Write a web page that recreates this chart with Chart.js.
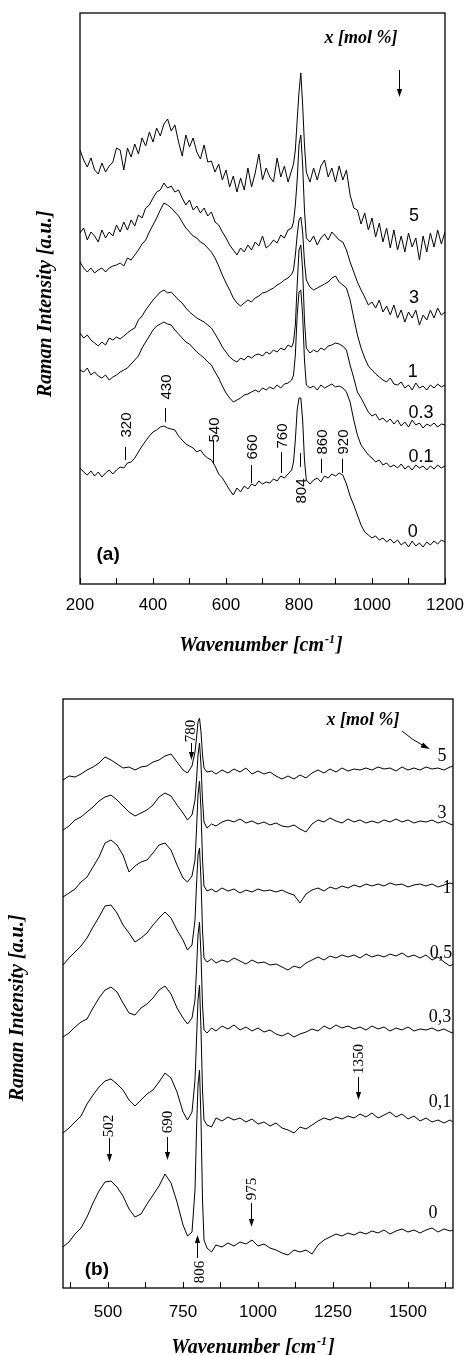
<!DOCTYPE html>
<html><head><meta charset="utf-8">
<script src="https://cdn.jsdelivr.net/npm/chart.js@4.4.0/dist/chart.umd.min.js"></script>
<style>
html,body{margin:0;padding:0;background:#fff;}
#wrap{position:relative;width:466px;height:1355px;overflow:hidden;background:#fff;}
#ca{position:absolute;left:0;top:0;}
#cb{position:absolute;left:0;top:660px;}
</style></head><body>
<div id="wrap"><canvas id="ca" width="466" height="660"></canvas><canvas id="cb" width="466" height="695"></canvas></div>
<script>
// ---------------- Panel (a) data ----------------
const xA = [
200,210,220,230,240,250,260,270,280,290,
300,310,320,330,340,350,360,370,380,390,
400,410,420,430,440,450,460,470,480,490,
500,510,520,530,540,550,560,570,580,590,
600,610,620,630,640,650,660,670,680,690,
700,710,720,730,740,750,760,770,780,785,
790,795,800,805,810,815,820,830,840,850,
860,870,880,890,900,910,920,930,940,950,
960,970,980,990,1000,1010,1020,1030,1040,1050,
1060,1070,1080,1090,1100,1110,1120,1130,1140,1150,
1160,1170,1180,1190,1200];
const a5 = [
450,440,433,442,430,426,437,428,434,438,
452,450,430,452,443,456,446,462,454,468,
458,472,464,476,481,469,475,458,444,465,
453,462,448,441,455,438,439,428,436,420,
430,413,424,408,422,410,432,413,427,446,
420,432,423,418,442,423,434,418,430,436,
450,480,508,527,495,455,428,418,432,420,
434,440,423,432,418,434,420,430,405,392,
390,376,387,370,382,363,377,358,372,352,
370,350,364,348,367,353,362,340,364,348,
367,353,370,356,368];
const a3 = [
367,372,360,368,364,358,370,362,368,364,
375,368,378,370,380,374,385,382,392,395,
402,408,410,417,412,414,408,410,402,395,
400,390,394,387,392,384,388,378,375,368,
362,355,350,345,352,348,355,350,358,354,
364,352,355,360,357,365,362,370,372,378,
395,420,455,465,435,390,362,358,364,355,
362,366,360,368,364,360,358,350,338,328,
318,310,303,295,298,292,300,288,294,285,
295,282,290,278,288,282,290,275,285,280,
290,282,292,285,288];
const a1 = [
338,332,328,332,327,330,332,328,332,334,
335,337,334,342,340,345,350,356,360,368,
375,382,390,397,395,392,388,384,378,372,
368,364,362,358,356,352,348,342,334,325,
317,310,302,297,294,297,300,298,302,304,
307,308,310,312,315,317,320,322,326,330,
345,365,380,383,368,338,320,313,310,312,
314,316,318,322,324,318,315,312,300,282,
265,252,242,234,230,226,223,220,218,222,
216,215,218,212,215,210,217,212,214,210,
215,212,216,213,215];
const a03 = [
267,262,265,260,257,254,258,255,262,260,
263,261,264,267,270,272,280,284,290,295,
300,304,308,310,307,308,304,300,297,292,
288,285,282,280,278,275,272,266,260,253,
248,243,240,238,242,240,244,242,245,246,
244,248,246,250,248,252,250,255,253,258,
275,315,350,355,330,280,252,247,250,248,
252,250,254,255,257,256,254,250,235,222,
208,202,195,188,184,186,180,182,178,181,
176,180,174,178,173,180,175,177,172,176,
174,177,173,176,175];
const a01 = [
230,228,232,225,228,224,222,225,220,223,
225,228,230,232,236,240,244,252,258,264,
270,274,276,278,276,275,270,266,262,258,
256,252,248,245,242,238,235,228,222,214,
207,202,198,200,202,205,206,208,210,208,
212,210,213,211,215,212,216,217,220,225,
245,285,308,310,285,240,215,212,214,210,
215,212,214,216,213,214,212,208,198,180,
165,155,150,145,142,138,140,135,137,133,
135,132,136,131,134,130,135,132,134,130,
134,131,135,132,134];
const a0 = [
132,128,125,129,124,128,123,127,130,126,
130,133,132,137,138,142,148,154,159,164,
168,170,173,174,172,171,170,164,160,156,
154,152,148,150,145,142,140,134,126,122,
116,110,105,112,108,114,111,116,114,119,
116,118,117,121,119,124,122,126,130,138,
160,190,202,202,180,140,120,116,120,122,
118,124,122,126,124,127,125,116,104,95,
85,75,68,65,62,64,60,62,58,61,
57,60,55,58,53,59,54,57,53,58,
55,59,56,60,58];
const seriesLabelsA = ['5','3','1','0.3','0.1','0'];
const tickValuesA = [200,300,400,500,600,700,800,900,1000,1100,1200];
const tickLabelsA = [200,400,600,800,1000,1200];
const peakLabelsA = ['320','430','540','660','760','804','860','920'];

// ---------------- Panel (b) data ----------------
const xB = [
350,370,390,410,430,450,470,490,510,530,
550,570,590,610,630,650,670,690,710,730,
750,765,780,790,795,800,805,810,815,820,
830,845,860,880,900,920,940,960,980,1000,
1020,1040,1060,1080,1100,1120,1140,1160,1180,1200,
1220,1240,1260,1280,1300,1320,1340,1360,1380,1400,
1420,1440,1460,1480,1500,1520,1540,1560,1580,1600,
1620,1640,1650];
const b5 = [
520,524,523,526,530,533,537,543,540,536,
532,533,530,533,534,538,540,544,546,538,
530,527,534,548,562,578,582,568,545,532,
528,529,526,530,527,531,528,532,526,529,
526,528,524,521,524,521,525,522,527,530,
527,531,528,532,529,531,530,532,530,533,
531,532,529,533,530,532,530,533,531,532,
530,533,534];
const b3 = [
470,474,480,483,488,493,499,503,505,500,
494,488,484,487,490,495,503,507,504,495,
487,480,485,500,520,545,557,535,500,478,
472,476,474,478,480,478,481,477,479,476,
478,475,477,474,473,475,471,468,476,480,
478,482,479,477,481,478,480,477,479,477,
480,478,481,478,480,477,479,478,480,477,
479,476,475];
const b1 = [
403,407,411,418,423,433,443,457,460,455,
445,428,434,438,440,447,455,457,450,435,
422,418,424,440,470,505,519,490,440,414,
409,411,408,412,409,411,407,410,408,411,
409,410,408,410,407,405,397,406,410,412,
409,413,411,414,412,415,413,416,414,416,
414,417,415,416,413,415,416,414,416,413,
415,417,416];
const b05 = [
335,342,348,354,362,373,383,394,395,387,
375,367,358,362,367,375,382,388,382,370,
360,350,355,380,415,445,452,420,370,342,
338,341,337,340,338,342,339,336,340,337,
338,335,336,333,330,334,332,337,340,343,
340,344,342,345,343,345,342,346,343,345,
343,346,344,347,343,345,342,345,340,343,
338,334,336];
const b03 = [
263,267,273,278,281,292,302,310,313,308,
297,287,285,292,296,302,310,314,306,292,
282,276,282,300,330,365,378,345,295,270,
267,272,269,274,271,275,270,273,269,272,
268,270,266,264,267,263,266,268,271,269,
274,271,275,272,274,271,273,270,274,271,
273,269,272,270,273,269,271,270,272,269,
271,268,267];
const b01 = [
167,172,178,184,196,205,213,219,221,216,
210,200,194,200,206,210,218,227,222,208,
188,180,188,220,260,300,315,270,210,180,
175,173,182,179,183,180,182,178,181,176,
178,174,177,172,170,167,173,171,175,179,
182,180,183,181,184,182,186,183,187,182,
185,188,183,186,181,184,179,182,178,180,
177,180,178];
const b0 = [
53,58,66,72,83,97,109,118,119,113,
104,91,83,86,96,105,114,126,117,98,
75,64,68,110,170,215,230,180,100,60,
52,48,55,53,57,54,58,56,60,54,
56,52,50,47,45,50,48,50,46,55,
60,63,66,64,67,65,68,66,69,67,
70,66,69,71,68,70,67,70,72,68,
71,69,70];
const seriesLabelsB = ['5','3','1','0,5','0,3','0,1','0'];
const tickValuesB = [375,500,625,750,875,1000,1125,1250,1375,1500,1625];
const tickLabelsB = [500,750,1000,1250,1500];
const peakLabelsB = ['780','502','690','806','975','1350'];

// ---------------- layout / styling ----------------
const SANS = '"Liberation Sans", Arial, sans-serif';
const SERIF = '"Liberation Serif", "Times New Roman", serif';

const layoutA = {
  yTitle: {x: 46, y: 304},
  xTitle: {x: 261, y: 644},
  panel: [277, 45],
  legendTitle: [970, 562],
  legendArrow: {x: 1074, from: 530, to: 503},
  seriesPos: [[1115,384],[1115,302],[1112,228],[1134,187],[1134,143],[1112,68]],
  markerX: [323,433,565,669,752,802,861,919],
  markerLine: [[140,153],[178,192],[137,160],[117,135],[127,148],[133,147],[127,141],[127,141]],
  markerText: [175,213,170,153,164,109,158,158]
};
const layoutB = {
  yTitle: {x: 18, y: 348},
  xTitle: {x: 253, y: 686},
  panel: [463, 30],
  legendTitle: [1350, 580],
  legendCurve: {start: [1480, 569], ctrl: [1513, 560], end: [1573, 551]},
  seriesPos: [[1613,544],[1613,487],[1630,412],[1610,347],[1607,283],[1607,198],[1583,87]],
  arrowX: [777,503,697,798,977,1333],
  arrowTextX: [778,505,699,806,979,1336],
  arrowText: [569,174,178,28,111,241],
  arrowFrom: [557,162,163,42,97,223],
  arrowTo: [540,138,140,65,73,200]
};

function rotText(ctx, text, x, y, font) {
  ctx.save(); ctx.translate(x, y); ctx.rotate(-Math.PI / 2);
  ctx.font = font; ctx.textAlign = 'center'; ctx.textBaseline = 'middle';
  ctx.fillText(text, 0, 0); ctx.restore();
}
function head(ctx, x, y, ang, len, half) {
  ctx.save(); ctx.translate(x, y); ctx.rotate(ang);
  ctx.beginPath(); ctx.moveTo(0, 0); ctx.lineTo(-len, -half); ctx.lineTo(-len, half); ctx.closePath(); ctx.fill();
  ctx.restore();
}
function vArrow(ctx, x, y1, y2) {
  const d = Math.sign(y2 - y1);
  ctx.beginPath(); ctx.moveTo(x, y1); ctx.lineTo(x, y2 - d * 5); ctx.stroke();
  head(ctx, x, y2, d > 0 ? Math.PI / 2 : -Math.PI / 2, 8, 2.6);
}
function frame(ctx, a) {
  ctx.strokeStyle = '#000'; ctx.lineWidth = 1.3;
  ctx.strokeRect(a.left, a.top, a.right - a.left, a.bottom - a.top);
}
// axis title with a real superscript: Wavenumber [cm^-1]
function xTitle(ctx, cx, cy) {
  const big = 'italic bold 20px ' + SERIF, small = 'italic bold 12px ' + SERIF;
  ctx.save(); ctx.fillStyle = '#000'; ctx.textBaseline = 'alphabetic'; ctx.textAlign = 'left';
  ctx.font = big; const w1 = ctx.measureText('Wavenumber [cm').width, w3 = ctx.measureText(']').width;
  ctx.font = small; const w2 = ctx.measureText('-1').width;
  let x0 = cx - (w1 + w2 + 2 + w3) / 2; const base = cy + 7;
  ctx.font = big; ctx.fillText('Wavenumber [cm', x0, base);
  ctx.font = small; ctx.fillText('-1', x0 + w1 + 1, base - 8);
  ctx.font = big; ctx.fillText(']', x0 + w1 + w2 + 2, base);
  ctx.restore();
}

const decorA = {
  id: 'decorA',
  afterDatasetsDraw(chart) {
    const {ctx, chartArea, scales: {x, y}} = chart;
    const X = v => x.getPixelForValue(v), Y = v => y.getPixelForValue(v);
    const L = layoutA;
    ctx.save();
    frame(ctx, chartArea);
    ctx.fillStyle = '#000'; ctx.strokeStyle = '#000'; ctx.lineWidth = 1;
    rotText(ctx, 'Raman Intensity [a.u.]', L.yTitle.x, L.yTitle.y, 'italic bold 20px ' + SERIF);
    xTitle(ctx, L.xTitle.x, L.xTitle.y);
    ctx.textAlign = 'center'; ctx.textBaseline = 'middle';
    ctx.font = 'bold 19px ' + SANS;
    ctx.fillText('(a)', X(L.panel[0]), Y(L.panel[1]));
    ctx.font = 'italic bold 18px ' + SERIF;
    ctx.fillText('x [mol %]', X(L.legendTitle[0]), Y(L.legendTitle[1]));
    vArrow(ctx, Math.round(X(L.legendArrow.x)) + 0.5, Y(L.legendArrow.from), Y(L.legendArrow.to));
    ctx.font = '18px ' + SANS;
    seriesLabelsA.forEach((t, i) => ctx.fillText(t, X(L.seriesPos[i][0]), Y(L.seriesPos[i][1])));
    peakLabelsA.forEach((t, i) => {
      const px = Math.round(X(L.markerX[i])) + 0.5;
      ctx.beginPath(); ctx.moveTo(px, Y(L.markerLine[i][0])); ctx.lineTo(px, Y(L.markerLine[i][1])); ctx.stroke();
      rotText(ctx, t, px + 1, Y(L.markerText[i]), '15px ' + SANS);
    });
    ctx.restore();
  }
};
const decorB = {
  id: 'decorB',
  afterDatasetsDraw(chart) {
    const {ctx, chartArea, scales: {x, y}} = chart;
    const X = v => x.getPixelForValue(v), Y = v => y.getPixelForValue(v);
    const L = layoutB;
    ctx.save();
    frame(ctx, chartArea);
    ctx.fillStyle = '#000'; ctx.strokeStyle = '#000'; ctx.lineWidth = 1;
    rotText(ctx, 'Raman Intensity [a.u.]', L.yTitle.x, L.yTitle.y, 'italic bold 20px ' + SERIF);
    xTitle(ctx, L.xTitle.x, L.xTitle.y);
    ctx.textAlign = 'center'; ctx.textBaseline = 'middle';
    ctx.font = 'bold 19px ' + SANS;
    ctx.fillText('(b)', X(L.panel[0]), Y(L.panel[1]));
    ctx.font = 'italic bold 18px ' + SERIF;
    ctx.fillText('x [mol %]', X(L.legendTitle[0]), Y(L.legendTitle[1]));
    const c = L.legendCurve;
    const sx = X(c.start[0]), sy = Y(c.start[1]), cx = X(c.ctrl[0]), cy = Y(c.ctrl[1]), ex = X(c.end[0]), ey = Y(c.end[1]);
    const ang = Math.atan2(ey - cy, ex - cx);
    ctx.beginPath(); ctx.moveTo(sx, sy); ctx.quadraticCurveTo(cx, cy, ex - 5 * Math.cos(ang), ey - 5 * Math.sin(ang)); ctx.stroke();
    head(ctx, ex, ey, ang, 9, 2.8);
    ctx.font = '18px ' + SERIF;
    seriesLabelsB.forEach((t, i) => ctx.fillText(t, X(L.seriesPos[i][0]), Y(L.seriesPos[i][1])));
    peakLabelsB.forEach((t, i) => {
      const px = Math.round(X(L.arrowX[i])) + 0.5;
      vArrow(ctx, px, Y(L.arrowFrom[i]), Y(L.arrowTo[i]));
      rotText(ctx, t, X(L.arrowTextX[i]), Y(L.arrowText[i]), '15px ' + SERIF);
    });
    ctx.restore();
  }
};

function makeDatasets(xs, series) {
  return series.map(s => ({
    data: xs.map((v, i) => ({x: v, y: s[i]})),
    borderColor: '#000', borderWidth: 1, pointRadius: 0, tension: 0, fill: false
  }));
}
// tick labels pushed down via a tall line box (keeps the right padding small)
function xScale(min, max, ticksV, labelsV, lineH) {
  return {
    type: 'linear', min, max,
    afterBuildTicks: s => { s.ticks = ticksV.map(v => ({value: v})); },
    ticks: {autoSkip: false, maxRotation: 0, minRotation: 0, padding: 2, color: '#000',
      font: {family: SANS, size: 17, lineHeight: lineH}, callback: v => labelsV.includes(v) ? String(v) : ''},
    grid: {display: true, drawOnChartArea: false, drawTicks: true, tickLength: -6, color: '#000', lineWidth: 1, tickWidth: 1},
    border: {display: false},
    title: {display: false}
  };
}
const common = {responsive: false, animation: false, devicePixelRatio: 1, events: [],
  plugins: {legend: {display: false}, tooltip: {enabled: false}}};

new Chart(document.getElementById('ca'), {
  type: 'line',
  data: {datasets: makeDatasets(xA, [a5, a3, a1, a03, a01, a0])},
  options: Object.assign({}, common, {
    layout: {padding: {left: 80, right: 21, top: 13, bottom: 28}},
    scales: {
      x: xScale(200, 1200, tickValuesA, tickLabelsA, 50 / 17),
      y: {display: false, min: 16, max: 587}
    }
  }),
  plugins: [decorA]
});
new Chart(document.getElementById('cb'), {
  type: 'line',
  data: {datasets: makeDatasets(xB, [b5, b3, b1, b05, b03, b01, b0])},
  options: Object.assign({}, common, {
    layout: {padding: {left: 63, right: 13, top: 39, bottom: 13}},
    scales: {
      x: xScale(350, 1650, tickValuesB, tickLabelsB, 56 / 17),
      y: {display: false, min: 12, max: 601}
    }
  }),
  plugins: [decorB]
});
</script>
</body></html>
